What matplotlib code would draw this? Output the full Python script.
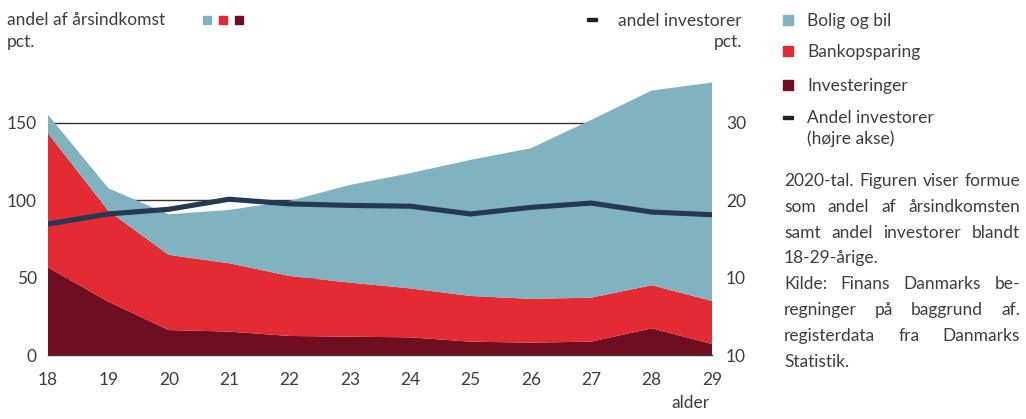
import matplotlib
matplotlib.use("Agg")
import matplotlib.pyplot as plt
from matplotlib.patches import Rectangle

plt.rcParams['font.family'] = ['Lato', 'DejaVu Sans']

# Data
alder = [18, 19, 20, 21, 22, 23, 24, 25, 26, 27, 28, 29]
investeringer = [56.5, 34.4, 16.1, 15.1, 12.3, 11.8, 11.4, 8.6, 8.0, 8.6, 17.2, 7.1]
bankopsparing = [86.5, 58.6, 48.5, 44.1, 38.7, 34.9, 31.6, 29.5, 28.2, 28.4, 27.8, 27.8]
bolig_og_bil = [12.0, 14.6, 26.2, 34.4, 48.4, 63.0, 74.3, 87.8, 97.2, 114.7, 125.6, 140.9]
andel_investorer = [16.9, 18.2, 18.8, 20.1, 19.5, 19.3, 19.2, 18.2, 19.05, 19.6, 18.45, 18.1]

left_ticks = [0, 50, 100, 150]
right_ticks = [0, 10, 20, 30]
right_labels = ['10', '10', '20', '30']  # som i originalen

c_bolig = '#80b3bf'
c_bank = '#e42a32'
c_inv = '#6e0e20'
c_line = '#253a52'
c_text = '#3d3d3d'
fs = 12.5

W, H = 1026, 419
fig = plt.figure(figsize=(W / 100, H / 100), dpi=100)
ax = fig.add_axes([48 / W, 1 - 355 / H, 664 / W, 279 / H])

def fx(px):
    return px / W

def fy(py):
    return 1 - py / H

# Gitterlinjer bag arealerne
for v in [50, 100, 150]:
    ax.axhline(v, color='#333333', lw=1, zorder=0)

ax.stackplot(alder, investeringer, bankopsparing, bolig_og_bil,
             colors=[c_inv, c_bank, c_bolig], zorder=1, lw=0)
ax.set_xlim(18, 29)
ax.set_ylim(0, 180)
ax.set_xticks(alder)
ax.set_yticks(left_ticks)
ax.tick_params(length=0, labelsize=fs, colors=c_text)
ax.tick_params(axis='y', pad=8)
ax.tick_params(axis='x', pad=12)
for s in ['top', 'right', 'left']:
    ax.spines[s].set_visible(False)
ax.spines['bottom'].set_color('#333333')
ax.spines['bottom'].set_linewidth(1)
ax.spines['bottom'].set_zorder(3)

ax2 = ax.twinx()
ax2.plot(alder, andel_investorer, color=c_line, lw=3.7, solid_capstyle='round')
ax2.set_ylim(0, 36)
ax2.set_yticks(right_ticks)
ax2.set_yticklabels(right_labels)
ax2.tick_params(length=0, labelsize=fs, colors=c_text, pad=10)
for s in ax2.spines.values():
    s.set_visible(False)

# Overskrifter
fig.text(fx(7), fy(25), 'andel af årsindkomst', fontsize=fs, color=c_text, va='baseline')
fig.text(fx(7), fy(46.7), 'pct.', fontsize=fs, color=c_text, va='baseline')
for x0, c in zip([203, 219, 235], [c_bolig, c_bank, c_inv]):
    fig.add_artist(Rectangle((fx(x0), fy(24)), 8 / W, 8 / H, color=c, transform=fig.transFigure))

fig.add_artist(Rectangle((fx(587), fy(21)), 10 / W, 3 / H, color='#222222', transform=fig.transFigure))
fig.text(fx(742), fy(26), 'andel investorer', fontsize=fs, color=c_text, va='baseline', ha='right')
fig.text(fx(742), fy(46.7), 'pct.', fontsize=fs, color=c_text, va='baseline', ha='right')
fig.text(fx(710), fy(408), 'alder', fontsize=fs, color=c_text, va='baseline', ha='right')

# Forklaring
legend_items = [('Bolig og bil', c_bolig, 26), ('Bankopsparing', c_bank, 57.3),
                ('Investeringer', c_inv, 90.7)]
for lab, c, base in legend_items:
    fig.add_artist(Rectangle((fx(783), fy(base - 1)), 10 / W, 10 / H, color=c,
                             transform=fig.transFigure))
    fig.text(fx(807), fy(base), lab, fontsize=fs, color=c_text, va='baseline')
fig.add_artist(Rectangle((fx(783), fy(119)), 10 / W, 3 / H, color='#222222', transform=fig.transFigure))
fig.text(fx(807), fy(123.3), 'Andel investorer', fontsize=fs, color=c_text, va='baseline')
fig.text(fx(807), fy(143.5), '(højre akse)', fontsize=fs, color=c_text, va='baseline')

# Note med lige margener
note_lines = [
    ('2020-tal. Figuren viser formue', True),
    ('som andel af årsindkomsten', True),
    ('samt andel investorer blandt', True),
    ('18-29-årige.', False),
    ('Kilde: Finans Danmarks be-', True),
    ('regninger på baggrund af.', True),
    ('registerdata fra Danmarks', True),
    ('Statistik.', False),
]
renderer = fig.canvas.get_renderer()
x_left, x_right = 784, 1020
for i, (line, just) in enumerate(note_lines):
    base = 186 + i * 25.8
    if not just:
        fig.text(fx(x_left), fy(base), line, fontsize=fs, color=c_text, va='baseline')
        continue
    words = line.split(' ')
    texts = [fig.text(0, fy(base), w, fontsize=fs, color=c_text, va='baseline') for w in words]
    widths = [t.get_window_extent(renderer).width for t in texts]
    gap = (x_right - x_left - sum(widths)) / (len(words) - 1)
    x = x_left
    for t, w in zip(texts, widths):
        t.set_x(fx(x))
        x += w + gap

fig.savefig('out.png', dpi=100)
